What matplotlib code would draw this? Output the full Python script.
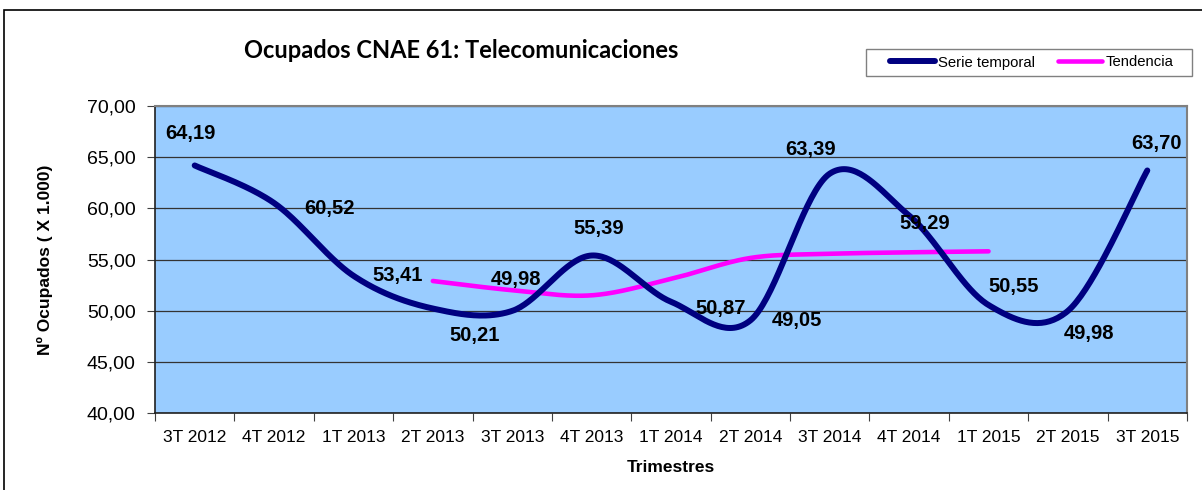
import matplotlib.pyplot as plt
import numpy as np
from matplotlib.patches import Rectangle
from matplotlib.ticker import FixedLocator, FuncFormatter

trimestres = ["3T 2012", "4T 2012", "1T 2013", "2T 2013", "3T 2013", "4T 2013", "1T 2014",
              "2T 2014", "3T 2014", "4T 2014", "1T 2015", "2T 2015", "3T 2015"]
serie = [64.19, 60.52, 53.41, 50.21, 49.98, 55.39, 50.87, 49.05, 63.39, 59.29, 50.55, 49.98, 63.70]
# tendencia covers 2T 2013 .. 1T 2015
tend_start = 3
tendencia = [52.9, 52.0, 51.5, 53.1, 55.15, 55.55, 55.7, 55.8]

# where each data label sits relative to its point (pixels)
label_offsets = [(-4, 32), (55, -5), (44, 0), (42, -27), (4, 31), (7, 27), (50, -7),
                 (47, 0), (-19, 24), (16, -8), (25, 19), (21, -23), (9, 27)]

NAVY = "#000080"
MAGENTA = "#FF00FF"


def smooth(xs, ys, n=40):
    # excel-like smoothed line: cubic bezier with catmull-rom control points
    p = np.column_stack([xs, ys]).astype(float)
    ext = np.vstack([p[0], p, p[-1]])
    out = []
    for i in range(len(p) - 1):
        p0, p1, p2, p3 = ext[i], ext[i + 1], ext[i + 2], ext[i + 3]
        c1 = p1 + (p2 - p0) / 6
        c2 = p2 - (p3 - p1) / 6
        t = np.linspace(0, 1, n)[:, None]
        seg = (1 - t) ** 3 * p1 + 3 * (1 - t) ** 2 * t * c1 + 3 * (1 - t) * t ** 2 * c2 + t ** 3 * p2
        out.append(seg if i == 0 else seg[1:])
    out = np.vstack(out)
    return out[:, 0], out[:, 1]


fig = plt.figure(figsize=(12.02, 4.90), dpi=100)
plt.rcParams['font.family'] = ['Liberation Sans', 'DejaVu Sans']

# outer chart frame
fig.patches.append(Rectangle((4 / 1202, -0.2), 1.2, 1.2 - 10 / 490, transform=fig.transFigure,
                             fill=False, edgecolor="black", linewidth=1.2))

ax = fig.add_axes([155 / 1202, 1 - 413 / 490, (1187 - 155) / 1202, (413 - 106) / 490])
ax.set_facecolor("#99CCFF")

x = np.arange(len(trimestres))
sx, sy = smooth(x, serie)
ax.plot(sx, sy, color=NAVY, linewidth=4.3, solid_capstyle="round", label="Serie temporal", zorder=3)

xt = np.arange(tend_start, tend_start + len(tendencia))
tx, ty = smooth(xt, tendencia)
ax.plot(tx, ty, color=MAGENTA, linewidth=3.3, solid_capstyle="round", label="Tendencia", zorder=2)

for xi, v, (dx, dy) in zip(x, serie, label_offsets):
    ax.annotate(f"{v:.2f}".replace(".", ","), (xi, v), xytext=(dx * 0.72, dy * 0.72),
                textcoords="offset points", ha="center", va="center",
                fontsize=14.5, fontweight="bold", color="black", zorder=4)

ax.set_xlim(-0.5, len(trimestres) - 0.5)
ax.set_ylim(40, 70)
ax.set_xticks(x)
ax.set_xticklabels(trimestres, fontsize=12.5)
ax.xaxis.set_minor_locator(FixedLocator(np.arange(-0.5, len(trimestres), 1)))
ax.tick_params(axis="x", which="major", length=0, pad=12)
ax.tick_params(axis="x", which="minor", length=6, width=0.8, color="#404040")
ax.set_yticks(np.arange(40, 71, 5))
ax.yaxis.set_major_formatter(FuncFormatter(lambda v, p: f"{v:.2f}".replace(".", ",")))
ax.tick_params(axis="y", length=6, width=0.8, color="#404040", labelsize=14, pad=8)
ax.grid(axis="y", color="#333333", linewidth=0.9)
ax.set_axisbelow(True)

for side in ["top", "right"]:
    ax.spines[side].set_color("#808080")
    ax.spines[side].set_linewidth(1.5)
for side in ["left", "bottom"]:
    ax.spines[side].set_color("#202020")
    ax.spines[side].set_linewidth(1.2)

ax.set_xlabel("Trimestres", fontsize=12.5, fontweight="bold", labelpad=11)
ax.set_ylabel("Nº Ocupados ( X 1.000)", fontsize=12.5, fontweight="bold", labelpad=24)

fig.text(461 / 1202, 1 - 51 / 490, "Ocupados CNAE 61: Telecomunicaciones", ha="center", va="center",
         fontsize=17, fontweight="bold", family=["Lato", "DejaVu Sans"])

# legend box drawn separately so its padding matches the original
fig.patches.append(Rectangle((866 / 1202, 1 - 76 / 490), (1192 - 866) / 1202, 27 / 490,
                             transform=fig.transFigure, facecolor="white", edgecolor="#808080",
                             linewidth=1.0, zorder=5))
leg = fig.legend(loc="center", bbox_to_anchor=(1032 / 1202, 1 - 62.5 / 490), ncol=2,
                 fontsize=10.7, handlelength=3.0, handletextpad=0.25, columnspacing=1.5,
                 frameon=False, borderpad=0.2)
leg.set_zorder(6)

fig.savefig("out.png", dpi=100)
